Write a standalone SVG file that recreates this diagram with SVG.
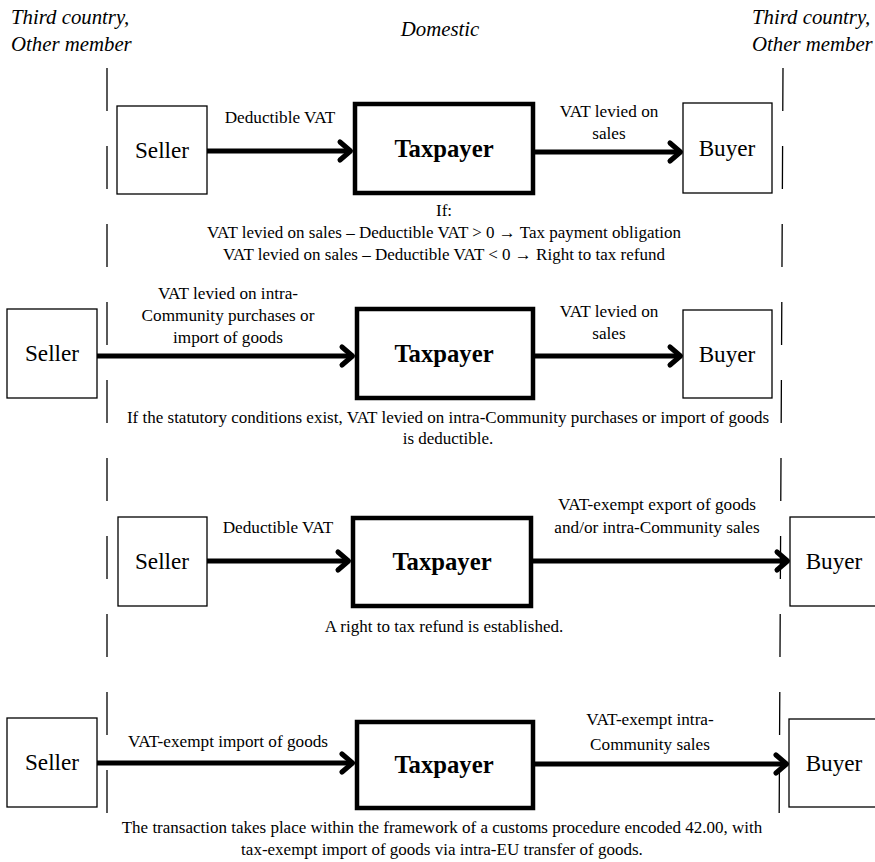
<svg xmlns="http://www.w3.org/2000/svg" xmlns:xlink="http://www.w3.org/1999/xlink" width="875" height="862" viewBox="0 0 875 862">
<style>
text{font-family:"Liberation Serif","Times New Roman",Times,serif;fill:#000}
.hdr{font-size:20.8px;font-style:italic}
.lbl{font-size:17.2px;text-anchor:middle}
.note{font-size:17px;text-anchor:middle}
.node{font-size:23.2px;text-anchor:middle}
.tp{font-size:24.7px;font-weight:bold;text-anchor:middle}
.box{fill:#fff;stroke:#000;stroke-width:1.3}
.tbox{fill:#fff;stroke:#000;stroke-width:4.5}
.shaft{stroke:#000;stroke-width:5;fill:none}
.head{stroke:#000;stroke-width:5;fill:none;stroke-linecap:round;stroke-linejoin:round}
.div{stroke:#000;stroke-width:1.3;stroke-dasharray:43 35;fill:none}
</style>
<defs>
<path id="ah" class="head" d="M-13,-9 L-2.5,0 L-13,9"/>
</defs>
<rect width="875" height="862" fill="#fff"/>
<g id="dividers">
<line class="div" x1="107" y1="68" x2="107" y2="848"/>
<line class="div" x1="783" y1="68" x2="779" y2="848"/>
</g>
<g id="headers">
<text class="hdr" x="11" y="24">Third country,</text>
<text class="hdr" x="11" y="51">Other member</text>
<text class="hdr" x="440" y="36" text-anchor="middle">Domestic</text>
<text class="hdr" x="752" y="24">Third country,</text>
<text class="hdr" x="752" y="51">Other member</text>
</g>
<g id="connectors">
<line class="shaft" x1="207" y1="151" x2="350" y2="151"/><use xlink:href="#ah" x="353" y="151"/>
<line class="shaft" x1="535" y1="152" x2="680" y2="152"/><use xlink:href="#ah" x="683" y="152"/>
<line class="shaft" x1="97" y1="356" x2="352" y2="356"/><use xlink:href="#ah" x="355" y="356"/>
<line class="shaft" x1="535" y1="356" x2="680" y2="356"/><use xlink:href="#ah" x="683" y="356"/>
<line class="shaft" x1="207" y1="561" x2="348" y2="561"/><use xlink:href="#ah" x="351" y="561"/>
<line class="shaft" x1="533" y1="561" x2="787" y2="561"/><use xlink:href="#ah" x="790" y="561"/>
<line class="shaft" x1="97" y1="763" x2="352" y2="763"/><use xlink:href="#ah" x="355" y="763"/>
<line class="shaft" x1="535" y1="764" x2="786" y2="764"/><use xlink:href="#ah" x="789" y="764"/>
</g>
<g id="labels">
<text class="lbl" x="280" y="123">Deductible VAT</text>
<text class="lbl" x="609" y="117">VAT levied on</text>
<text class="lbl" x="609" y="139">sales</text>
<text class="note" x="444" y="216">If:</text>
<text class="note" x="444" y="238">VAT levied on sales – Deductible VAT &gt; 0 → Tax payment obligation</text>
<text class="note" x="444" y="260">VAT levied on sales – Deductible VAT &lt; 0 → Right to tax refund</text>
<text class="lbl" x="228" y="299">VAT levied on intra-</text>
<text class="lbl" x="228" y="321">Community purchases or</text>
<text class="lbl" x="228" y="343">import of goods</text>
<text class="lbl" x="609" y="317">VAT levied on</text>
<text class="lbl" x="609" y="339">sales</text>
<text class="note" x="448" y="423">If the statutory conditions exist, VAT levied on intra-Community purchases or import of goods</text>
<text class="note" x="448" y="444">is deductible.</text>
<text class="lbl" x="278" y="533">Deductible VAT</text>
<text class="lbl" x="657" y="510">VAT-exempt export of goods</text>
<text class="lbl" x="657" y="533">and/or intra-Community sales</text>
<text class="note" x="444" y="632">A right to tax refund is established.</text>
<text class="lbl" x="228" y="747">VAT-exempt import of goods</text>
<text class="lbl" x="650" y="725">VAT-exempt intra-</text>
<text class="lbl" x="650" y="750">Community sales</text>
<text class="note" x="442" y="833">The transaction takes place within the framework of a customs procedure encoded 42.00, with</text>
<text class="note" x="442" y="855">tax-exempt import of goods via intra-EU transfer of goods.</text>
</g>
<g id="seller1"><rect class="box" x="117" y="106" width="90" height="88"/><text class="node" x="162" y="158">Seller</text></g>
<g id="taxpayer1"><rect class="tbox" x="355" y="104" width="178" height="89"/><text class="tp" x="444" y="157">Taxpayer</text></g>
<g id="buyer1"><rect class="box" x="683" y="103" width="89" height="90"/><text class="node" x="727" y="156">Buyer</text></g>
<g id="seller2"><rect class="box" x="7" y="309" width="90" height="89"/><text class="node" x="52" y="361">Seller</text></g>
<g id="taxpayer2"><rect class="tbox" x="357" y="309" width="176" height="89"/><text class="tp" x="444" y="362">Taxpayer</text></g>
<g id="buyer2"><rect class="box" x="683" y="310" width="89" height="88"/><text class="node" x="727" y="362">Buyer</text></g>
<g id="seller3"><rect class="box" x="118" y="517" width="89" height="89"/><text class="node" x="162" y="569">Seller</text></g>
<g id="taxpayer3"><rect class="tbox" x="353" y="518" width="178" height="88"/><text class="tp" x="442" y="570">Taxpayer</text></g>
<g id="buyer3"><rect class="box" x="790" y="517" width="89" height="89"/><text class="node" x="834" y="569">Buyer</text></g>
<g id="seller4"><rect class="box" x="7" y="718" width="90" height="89"/><text class="node" x="52" y="770">Seller</text></g>
<g id="taxpayer4"><rect class="tbox" x="357" y="722" width="176" height="86"/><text class="tp" x="444" y="773">Taxpayer</text></g>
<g id="buyer4"><rect class="box" x="789" y="719" width="90" height="88"/><text class="node" x="834" y="771">Buyer</text></g>
</svg>
